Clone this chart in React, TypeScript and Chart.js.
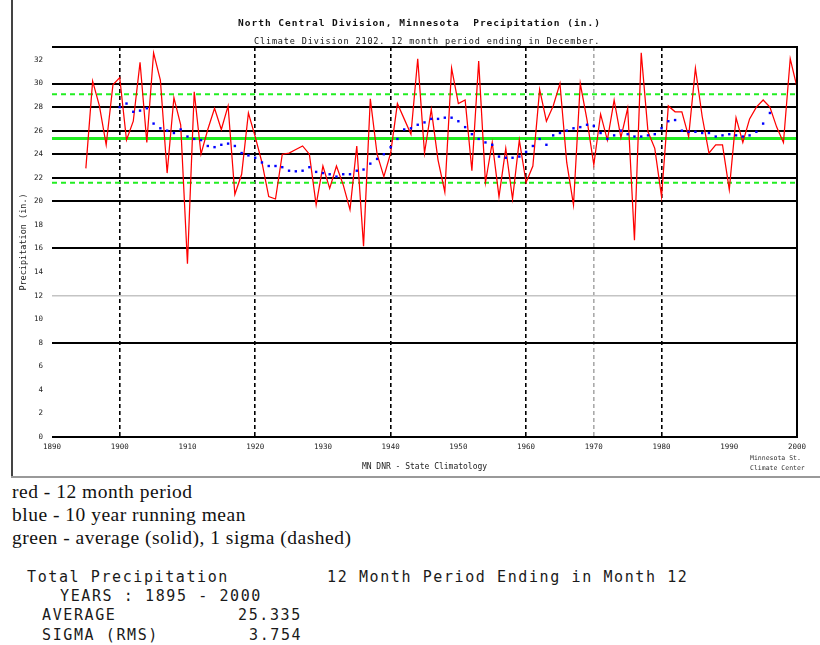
import React, { useEffect, useRef } from "react";
import { Chart, registerables } from "chart.js";

Chart.register(...registerables);

// ---- data ----
const START_YEAR = 1895;
const precip12Month = [
  22.8, 30.2, 28.1, 24.8, 29.9,
  30.5, 25.2, 26.8, 31.8, 25.0, 32.6, 30.3, 22.4, 28.8, 26.5,
  14.7, 29.3, 24.0, 26.1, 27.9, 26.1, 28.1, 20.6, 22.3, 27.5,
  25.5, 23.3, 20.4, 20.2, 24.0, 24.1, 24.4, 24.7, 24.0, 19.7,
  23.0, 21.1, 23.0, 21.4, 19.3, 24.7, 16.2, 28.7, 24.0, 22.1,
  24.1, 28.3, 27.0, 25.7, 32.1, 24.1, 27.8, 23.5, 20.8, 31.3,
  28.3, 28.6, 22.6, 31.9, 21.6, 25.0, 20.4, 24.5, 20.2, 25.2,
  21.6, 23.0, 29.5, 26.8, 28.1, 30.0, 23.3, 19.7, 30.0, 26.9,
  23.1, 27.4, 25.2, 28.6, 25.4, 27.9, 16.7, 32.6, 25.9, 24.5,
  20.4, 28.1, 27.6, 27.6, 25.5, 31.3, 27.2, 24.1, 24.8, 24.8,
  21.0, 27.1, 25.0, 27.0, 28.0, 28.6, 28.0, 26.3, 25.0, 32.1, 29.7,
];

const MEAN_START_YEAR = 1900;
const runningMean10yr = [
  28.0, 28.3, 27.6, 27.7, 27.9, 26.6, 26.2, 26.0, 25.8, 26.1,
  25.5, 25.3, 25.2, 24.7, 24.6, 24.8, 24.9, 24.7, 24.1, 23.9,
  23.7, 23.3, 23.0, 23.0, 22.9, 22.6, 22.55, 22.6, 22.9, 22.5,
  22.4, 22.3, 22.1, 22.3, 22.3, 22.6, 22.7, 23.2, 23.6, 24.0,
  24.6, 25.3, 26.1, 26.2, 26.5, 26.7, 27.0, 27.0, 27.1, 27.1,
  26.8, 26.3, 25.7, 25.3, 25.0, 24.8, 23.8, 23.7, 23.7, 23.8,
  24.2, 24.7, 25.3, 24.8, 25.6, 25.8, 26.0, 26.2, 26.3, 26.5,
  26.4, 25.8, 25.3, 25.6, 26.0, 25.7, 25.5, 25.5, 25.6, 25.7,
  26.2, 26.8, 26.9, 26.0, 25.9, 25.9, 25.8, 25.8, 25.5, 25.6,
  25.7, 25.6, 25.5, 25.6, 25.9, 26.6, 27.5,
];

const averageValue = 25.335;
const sigmaValue = 3.754;
const periodYears = [1890, 2000];

const xTickValues = [1890, 1900, 1910, 1920, 1930, 1940, 1950, 1960, 1970, 1980, 1990, 2000];
const yTickValues = [0, 2, 4, 6, 8, 10, 12, 14, 16, 18, 20, 22, 24, 26, 28, 30, 32];
const blackVerticalYears = [1900, 1920, 1940, 1960, 1980];
const grayVerticalYears = [1970];
const blackHorizontalValues = [0, 8, 16, 20, 22, 24, 26, 28, 30];
const grayHorizontalValues = [12];

const framePlugin = {
  id: "plotFrame",
  afterDatasetsDraw(chart: any) {
    const { ctx, chartArea } = chart;
    const { left, right, top, bottom } = chartArea;
    ctx.save();
    ctx.strokeStyle = "#000";
    ctx.lineWidth = 2;
    ctx.setLineDash([]);
    ctx.beginPath();
    ctx.moveTo(left, top);
    ctx.lineTo(right, top);
    ctx.lineTo(right, bottom);
    ctx.lineTo(left, bottom);
    ctx.stroke();
    ctx.restore();
  },
};

const MONO = "'DejaVu Sans Mono', 'Liberation Mono', monospace";

function PrecipChart() {
  const ref = useRef<HTMLCanvasElement | null>(null);
  useEffect(() => {
    if (!ref.current) return;
    const redPts = precip12Month.map((v, i) => ({ x: START_YEAR + i, y: v }));
    const bluePts = runningMean10yr.map((v, i) => ({ x: MEAN_START_YEAR + i, y: v }));
    const avgPts = periodYears.map((yr) => ({ x: yr, y: averageValue }));
    const hiPts = periodYears.map((yr) => ({ x: yr, y: averageValue + sigmaValue }));
    const loPts = periodYears.map((yr) => ({ x: yr, y: averageValue - sigmaValue }));
    const chart = new Chart(ref.current, {
      type: "line",
      data: {
        datasets: [
          {
            label: "average",
            data: avgPts,
            borderColor: "#22ee22",
            borderWidth: 3,
            pointRadius: 0,
            order: 3,
          },
          {
            label: "+1 sigma",
            data: hiPts,
            borderColor: "#22ee22",
            borderWidth: 2,
            borderDash: [5, 4],
            pointRadius: 0,
            order: 3,
          },
          {
            label: "-1 sigma",
            data: loPts,
            borderColor: "#22ee22",
            borderWidth: 2,
            borderDash: [5, 4],
            pointRadius: 0,
            order: 3,
          },
          {
            label: "12 month period",
            data: redPts,
            borderColor: "#ff0000",
            borderWidth: 1.25,
            pointRadius: 0,
            tension: 0,
            order: 2,
          },
          {
            label: "10 year running mean",
            data: bluePts,
            showLine: false,
            pointStyle: "rect",
            pointRadius: 1.7,
            pointBorderWidth: 0,
            pointBackgroundColor: "#0000ff",
            borderColor: "#0000ff",
            order: 1,
          },
        ],
      },
      options: {
        animation: false,
        responsive: false,
        layout: { padding: { left: 12, top: 47, right: 23, bottom: 7 } },
        plugins: {
          legend: { display: false },
          tooltip: { enabled: false },
          title: { display: false },
        },
        scales: {
          x: {
            type: "linear",
            min: 1890,
            max: 2000,
            afterBuildTicks: (scale: any) => {
              scale.ticks = xTickValues.map((v) => ({ value: v }));
            },
            afterFit: (scale: any) => {
              scale.height = 36;
            },
            ticks: {
              padding: 6,
              maxRotation: 0,
              autoSkip: false,
              color: "#222",
              font: { family: MONO, size: 7.5 },
              callback: (v: any) => String(v),
            },
            grid: {
              drawTicks: false,
              lineWidth: 1.6,
              color: (ctx: any) => {
                const v = ctx.tick ? ctx.tick.value : null;
                if (blackVerticalYears.includes(v)) return "#000";
                if (grayVerticalYears.includes(v)) return "#aaaaaa";
                return "rgba(0,0,0,0)";
              },
            },
            border: { display: false, dash: [4, 3] },
            title: {
              display: true,
              text: "MN DNR - State Climatology",
              color: "#222",
              font: { family: MONO, size: 8 },
              padding: { top: 0, bottom: 1 },
            },
          },
          y: {
            type: "linear",
            min: 0,
            max: 33.1,
            afterBuildTicks: (scale: any) => {
              scale.ticks = yTickValues.map((v) => ({ value: v }));
            },
            afterFit: (scale: any) => {
              scale.width = 40;
            },
            ticks: {
              padding: 9,
              autoSkip: false,
              color: "#222",
              font: { family: MONO, size: 7.5 },
              callback: (v: any) => String(v),
            },
            grid: {
              drawTicks: false,
              lineWidth: (ctx: any) => {
                const v = ctx.tick ? ctx.tick.value : null;
                return grayHorizontalValues.includes(v) ? 1.5 : 2;
              },
              color: (ctx: any) => {
                const v = ctx.tick ? ctx.tick.value : null;
                if (blackHorizontalValues.includes(v)) return "#000";
                if (grayHorizontalValues.includes(v)) return "#c4c4c4";
                return "rgba(0,0,0,0)";
              },
            },
            border: { display: false },
            title: {
              display: true,
              text: "Precipitation (in.)",
              color: "#222",
              font: { family: MONO, size: 8.5 },
              padding: { top: 7, bottom: 0 },
            },
          },
        },
      },
      plugins: [framePlugin],
    });
    return () => chart.destroy();
  }, []);
  return (
    <canvas
      ref={ref}
      width={820}
      height={480}
      style={{ position: "absolute", left: 0, top: 0, width: 820, height: 480 }}
    />
  );
}

export default function App() {
  const abs = (extra: React.CSSProperties): React.CSSProperties => ({
    position: "absolute",
    whiteSpace: "pre",
    margin: 0,
    ...extra,
  });
  const monoBlock: React.CSSProperties = {
    fontFamily: MONO,
    fontSize: 15,
    letterSpacing: 1.6,
    color: "#1a1a1a",
    lineHeight: "18px",
  };
  return (
    <div
      style={{
        position: "absolute",
        left: 0,
        top: 0,
        width: 820,
        height: 645,
        background: "#fff",
        overflow: "hidden",
      }}
    >
      <PrecipChart />
      {/* outer frame */}
      <div style={abs({ left: 11, top: 0, width: 2, height: 477, background: "#444" })} />
      <div style={abs({ left: 11, top: 476, width: 809, height: 2, background: "#999" })} />

      {/* titles */}
      <div
        style={abs({
          left: 238,
          top: 17,
          fontFamily: MONO,
          fontWeight: "bold",
          fontSize: 9.5,
          letterSpacing: 1.0,
          lineHeight: "12px",
          color: "#111",
        })}
      >
        North Central Division, Minnesota  Precipitation (in.)
      </div>
      <div
        style={abs({
          left: 254,
          top: 36,
          fontFamily: MONO,
          fontSize: 8.5,
          letterSpacing: 0.85,
          lineHeight: "11px",
          color: "#111",
        })}
      >
        Climate Division 2102. 12 month period ending in December.
      </div>

      {/* credit lower right */}
      <div
        style={abs({
          left: 750,
          top: 453,
          fontFamily: MONO,
          fontSize: 6.5,
          lineHeight: "10px",
          color: "#333",
        })}
      >
        {"Minnesota St.\nClimate Center"}
      </div>

      {/* serif legend text */}
      <div
        style={abs({
          left: 12,
          top: 480,
          fontFamily: "'Liberation Serif', 'DejaVu Serif', serif",
          fontSize: 19.5,
          letterSpacing: 0.5,
          lineHeight: "23px",
          color: "#111",
        })}
      >
        {"red - 12 month period\nblue - 10 year running mean\ngreen - average (solid), 1 sigma (dashed)"}
      </div>

      {/* monospace summary */}
      <div style={abs({ ...monoBlock, left: 27, top: 568 })}>Total Precipitation</div>
      <div style={abs({ ...monoBlock, left: 327, top: 568 })}>12 Month Period Ending in Month 12</div>
      <div style={abs({ ...monoBlock, left: 60, top: 587 })}>YEARS : 1895 - 2000</div>
      <div style={abs({ ...monoBlock, left: 42, top: 606 })}>AVERAGE</div>
      <div style={abs({ ...monoBlock, left: 238, top: 606 })}>25.335</div>
      <div style={abs({ ...monoBlock, left: 42, top: 626 })}>SIGMA (RMS)</div>
      <div style={abs({ ...monoBlock, left: 249, top: 626 })}>3.754</div>
    </div>
  );
}
